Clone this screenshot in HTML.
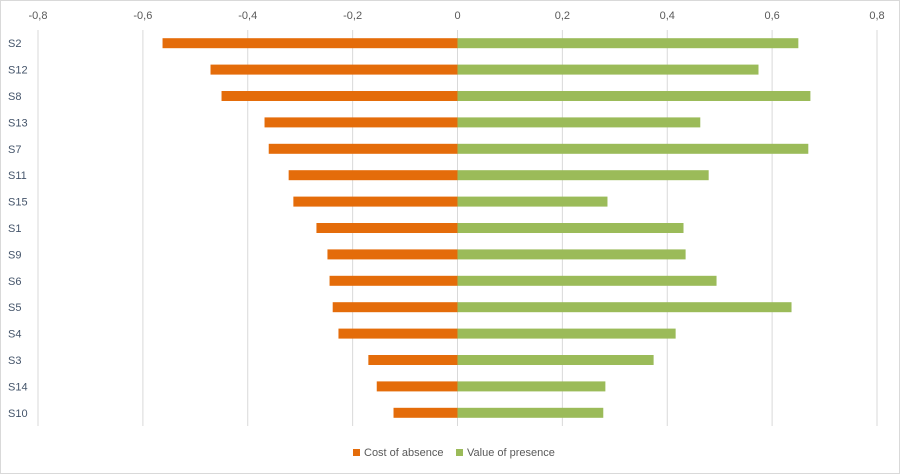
<!DOCTYPE html>
<html><head><meta charset="utf-8">
<style>
html,body{margin:0;padding:0;background:#fff;}
svg{display:block;font-family:"Liberation Sans",sans-serif;}
</style></head>
<body>
<svg id="chart" width="900" height="474" viewBox="0 0 900 474" xmlns="http://www.w3.org/2000/svg">
<rect x="0.5" y="0.5" width="899" height="473" fill="#fff" stroke="#d9d9d9"/>
<g id="grid"></g>
<g id="bars"></g>
<g id="labels"></g>
<g id="legend">
  <rect x="353" y="449" width="7" height="7" fill="#e46c0a"/>
  <text x="364" y="456" font-size="11" fill="#595959">Cost of absence</text>
  <rect x="456" y="449" width="7" height="7" fill="#9bbb59"/>
  <text x="467" y="456" font-size="11" fill="#595959">Value of presence</text>
</g>
</svg>
<script>
const categories = ["S2","S12","S8","S13","S7","S11","S15","S1","S9","S6","S5","S4","S3","S14","S10"];
const costOfAbsence = [-0.5625,-0.471,-0.450,-0.368,-0.360,-0.322,-0.313,-0.269,-0.248,-0.244,-0.238,-0.227,-0.170,-0.154,-0.122];
const valueOfPresence = [0.650,0.574,0.673,0.463,0.669,0.479,0.286,0.431,0.435,0.494,0.637,0.416,0.374,0.282,0.278];
const tickValues = [-0.8,-0.6,-0.4,-0.2,0,0.2,0.4,0.6,0.8];
const tickLabels = ["-0,8","-0,6","-0,4","-0,2","0","0,2","0,4","0,6","0,8"];

const NS="http://www.w3.org/2000/svg";
const x0=38,x1=877,vmin=-0.8,vmax=0.8;
const xs=v=>x0+(v-vmin)/(vmax-vmin)*(x1-x0);
const yTop=30,yBot=426;
const band=(yBot-yTop)/categories.length;
const yc=i=>yTop+band*(i+0.5);
const bh=10;
function mk(tag,attrs,parent){const e=document.createElementNS(NS,tag);for(const k in attrs)e.setAttribute(k,attrs[k]);parent.appendChild(e);return e;}
const grid=document.getElementById('grid'),bars=document.getElementById('bars'),labels=document.getElementById('labels');
tickValues.forEach((v,i)=>{
  const l=mk('line',{x1:xs(v),x2:xs(v),y1:yTop,y2:yBot,stroke:'#d9d9d9','stroke-width':1},grid);
  
  
  const t=mk('text',{x:xs(v),y:19,'text-anchor':'middle','font-size':11,fill:'#595959'},labels);
  t.textContent=tickLabels[i];
  
  
});
categories.forEach((c,i)=>{
  const y=yc(i);
  const a=costOfAbsence[i];
  const r1=mk('rect',{x:xs(Math.min(a,0)),y:y-bh/2,width:Math.abs(xs(a)-xs(0)),height:bh,fill:'#e46c0a'},bars);
  
  
  const b=valueOfPresence[i];
  const r2=mk('rect',{x:xs(Math.min(b,0)),y:y-bh/2,width:Math.abs(xs(b)-xs(0)),height:bh,fill:'#9bbb59'},bars);
  
  
  const t=mk('text',{x:8,y:y+4,'font-size':11,fill:'#44546a'},labels);
  t.textContent=c;
  
  
});
</script>
</body></html>
